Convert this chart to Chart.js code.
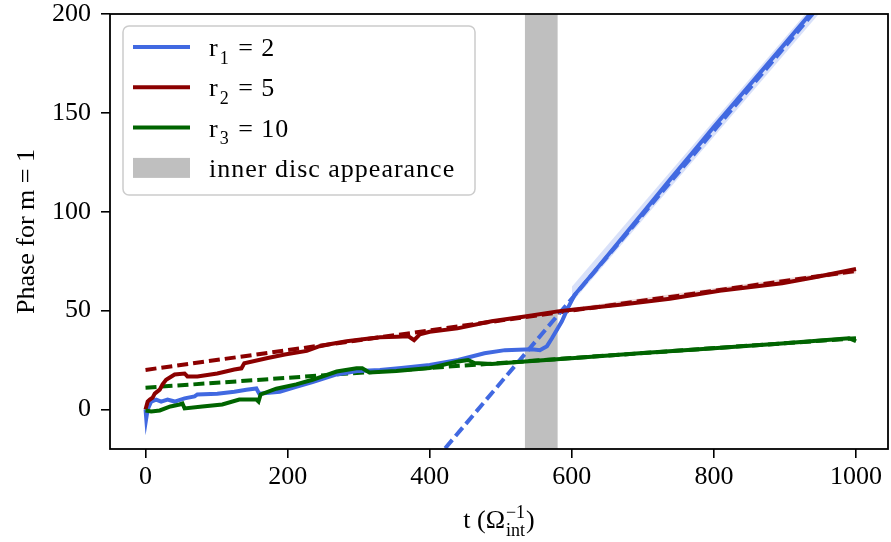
<!DOCTYPE html>
<html>
<head>
<meta charset="utf-8">
<script src="https://cdn.jsdelivr.net/npm/chart.js@4.4.1/dist/chart.umd.min.js"></script>
<style>
  html, body { margin: 0; padding: 0; background: #fff; }
</style>
</head>
<body>
<canvas id="phaseChart" width="891" height="542"></canvas>
<script>
// --- data ---
const tBlue = [0, 1, 3, 8, 15, 22, 31, 41, 55, 69, 73, 101, 125, 142, 156, 160, 189, 212, 235, 269, 300, 330, 360, 400, 440, 477, 506, 544, 555, 565, 572, 586, 594, 604, 630, 660, 700, 740, 770, 800, 850, 900, 940, 1000];
const phaseBlue = [0, -4.5, 0, 4, 5, 4, 5, 4, 5.6, 6.6, 7.6, 8, 9, 10, 10.6, 8, 9, 11.5, 13.8, 17.7, 19.5, 20, 21, 22.5, 25, 28.4, 30, 30.4, 30, 32, 36, 44.6, 51, 58, 69, 82, 99.5, 117, 130, 143, 164, 185, 202, 227];

const tRed = [0, 3, 6, 10, 13, 20, 24, 29, 41, 55, 59, 73, 101, 125, 135, 139, 172, 196, 227, 245, 259, 283, 306, 330, 354, 370, 378, 386, 400, 439, 487, 534, 580, 604, 668, 738, 808, 896, 942, 1000];
const phaseRed = [0, 4, 5, 6, 8, 10, 12.7, 15, 17.7, 18.2, 16.7, 16.7, 18.2, 20.2, 20.8, 23.4, 26, 27.8, 29.6, 32, 33, 34.5, 35.5, 36.5, 36.8, 37, 35, 38, 39.3, 41, 44.6, 47, 49.6, 50.6, 53, 56, 60, 63.8, 66.9, 71];

const tGreen = [0, 8, 20, 35, 48, 52, 55, 80, 108, 132, 156, 159, 162, 184, 212, 235, 269, 297, 305, 315, 353, 400, 440, 454, 463, 487, 534, 604, 700, 800, 900, 990, 1000];
const phaseGreen = [-0.5, -1, -0.5, 1.5, 2.5, 3, 0.5, 1.5, 2.5, 5, 5, 4, 7.6, 10.5, 12.7, 15, 19.2, 20.8, 20.8, 18.7, 19.5, 21, 24.3, 25, 23.5, 23, 24.3, 26, 28.5, 31, 33.5, 36, 34.5];

// linear fits (dashed), end points
const fitT = [0, 1000];
const fitBlue = [-198.8, 226];
const fitRed = [20, 70];
const fitGreen = [11, 36];

// shaded uncertainty around the fits
const bandT = [600, 1000];
const blueLow = [54, 222];
const blueHigh = [62, 230];
const redLow = [49.3, 68.8];
const redHigh = [51.5, 71.2];

const discBand = [534, 580];
const xTicks = [0, 200, 400, 600, 800, 1000];
const yTicks = [0, 50, 100, 150, 200];
const legendLabels = ['r_{1} = 2', 'r_{2} = 5', 'r_{3} = 10', 'inner disc appearance'];

const BLUE = '#4169e1', RED = '#8b0000', GREEN = '#006400', GREY = '#bfbfbf';
const FAMILY = '"Liberation Serif", "DejaVu Serif", serif';
const FS = 26;

const pts = (xs, ys) => xs.map((x, i) => ({ x, y: ys[i] }));

// text with ^{..} and _{..}; consecutive scripts are stacked
function drawRich(ctx, str, x, y, size, draw) {
  const parts = str.split(/(\^\{[^}]*\}|_\{[^}]*\})/).filter(Boolean).map(s =>
    s[0] === '^' ? { kind: 'sup', text: s.slice(2, -1) } :
    s[0] === '_' ? { kind: 'sub', text: s.slice(2, -1) } : { kind: 'n', text: s });
  let cx = x, i = 0;
  while (i < parts.length) {
    if (parts[i].kind === 'n') {
      ctx.font = `${size}px ${FAMILY}`;
      if (draw) ctx.fillText(parts[i].text, cx, y);
      cx += ctx.measureText(parts[i].text).width;
      i++;
    } else {
      let w = 0;
      while (i < parts.length && parts[i].kind !== 'n') {
        const q = parts[i];
        ctx.font = `${Math.round(size * 0.7)}px ${FAMILY}`;
        const dy = q.kind === 'sup' ? -size * 0.4 : size * 0.3;
        if (draw) ctx.fillText(q.text, cx + 1, y + dy);
        w = Math.max(w, ctx.measureText(q.text).width + 1);
        i++;
      }
      cx += w + 1;
    }
  }
  return cx - x;
}

const discPlugin = {
  id: 'discBand',
  beforeDatasetsDraw(chart) {
    const { ctx, chartArea: a, scales: { x } } = chart;
    const x0 = x.getPixelForValue(discBand[0]);
    const x1 = x.getPixelForValue(discBand[1]);
    ctx.save();
    ctx.fillStyle = GREY;
    ctx.fillRect(x0, a.top, x1 - x0, a.bottom - a.top);
    ctx.restore();
  }
};

const framePlugin = {
  id: 'frame',
  afterDatasetsDraw(chart) {
    const { ctx, chartArea: a } = chart;
    ctx.save();
    ctx.strokeStyle = '#000';
    ctx.lineWidth = 1.8;
    ctx.strokeRect(a.left, a.top, a.right - a.left, a.bottom - a.top);
    ctx.restore();
  }
};

const legendPlugin = {
  id: 'boxLegend',
  afterDraw(chart) {
    const { ctx, chartArea: a } = chart;
    const left = a.left + 13, top = a.top + 12;
    ctx.save();
    ctx.fillStyle = 'rgba(255,255,255,0.8)';
    ctx.strokeStyle = '#cccccc';
    ctx.lineWidth = 1.5;
    ctx.beginPath();
    ctx.roundRect(left, top, 352, 169, 6);
    ctx.fill();
    ctx.stroke();
    const colors = [BLUE, RED, GREEN];
    legendLabels.forEach((label, i) => {
      const rowY = top + 21 + i * 40.3;
      if (i < 3) {
        ctx.strokeStyle = colors[i];
        ctx.lineWidth = 4;
        ctx.beginPath();
        ctx.moveTo(left + 10, rowY);
        ctx.lineTo(left + 67, rowY);
        ctx.stroke();
      } else {
        ctx.fillStyle = GREY;
        ctx.fillRect(left + 10, rowY - 10, 57, 20);
      }
      ctx.fillStyle = '#000';
      ctx.textBaseline = 'alphabetic';
      ctx.textAlign = 'left';
      ctx.letterSpacing = '1px';
      drawRich(ctx, label, left + 86, rowY + 9, FS, true);
    });
    ctx.restore();
  }
};

const xTitlePlugin = {
  id: 'xTitle',
  afterDraw(chart) {
    const { ctx, chartArea: a } = chart;
    const label = 't (Ω^{−1}_{int})';
    ctx.save();
    ctx.fillStyle = '#000';
    ctx.textBaseline = 'alphabetic';
    ctx.textAlign = 'left';
    const w = drawRich(ctx, label, 0, 0, FS, false);
    drawRich(ctx, label, (a.left + a.right) / 2 - w / 2, chart.height - 14, FS, true);
    ctx.restore();
  }
};

const tickFont = { family: FAMILY, size: FS };
const lineSet = (label, data, color, order, dash) => ({
  label, data, borderColor: color, borderWidth: 4, borderDash: dash || [],
  pointRadius: 0, tension: 0, fill: false, clip: 0, order
});

new Chart(document.getElementById('phaseChart'), {
  type: 'line',
  data: {
    datasets: [
      { data: pts(bandT, blueLow), borderWidth: 0, pointRadius: 0, fill: false, clip: 0, order: 9 },
      { data: pts(bandT, blueHigh), borderWidth: 0, pointRadius: 0, fill: '-1', backgroundColor: 'rgba(65,105,225,0.2)', clip: 0, order: 9 },
      { data: pts(bandT, redLow), borderWidth: 0, pointRadius: 0, fill: false, clip: 0, order: 9 },
      { data: pts(bandT, redHigh), borderWidth: 0, pointRadius: 0, fill: '-1', backgroundColor: 'rgba(139,0,0,0.15)', clip: 0, order: 9 },
      lineSet('fit r1', pts(fitT, fitBlue), BLUE, 4, [11, 5]),
      lineSet('fit r2', pts(fitT, fitRed), RED, 5, [11, 5]),
      lineSet('fit r3', pts(fitT, fitGreen), GREEN, 6, [11, 5]),
      lineSet('r1 = 2', pts(tBlue, phaseBlue), BLUE, 3),
      lineSet('r2 = 5', pts(tRed, phaseRed), RED, 2),
      lineSet('r3 = 10', pts(tGreen, phaseGreen), GREEN, 1)
    ]
  },
  options: {
    responsive: false,
    animation: false,
    events: [],
    layout: { padding: { top: 14, right: 3, left: 0, bottom: 0 } },
    plugins: { legend: { display: false }, tooltip: { enabled: false } },
    scales: {
      x: {
        type: 'linear', min: -50, max: 1045,
        afterBuildTicks: s => { s.ticks = xTicks.map(v => ({ value: v })); },
        afterFit: s => { s.height = 93; s.paddingLeft = 0; s.paddingRight = 0; },
        ticks: { font: tickFont, color: '#000', padding: 4, maxRotation: 0, callback: v => String(v) },
        grid: { drawOnChartArea: false, color: '#000', tickLength: 9, lineWidth: 1.6 },
        border: { display: false }
      },
      y: {
        type: 'linear', min: -20, max: 200,
        afterBuildTicks: s => { s.ticks = yTicks.map(v => ({ value: v })); },
        afterFit: s => { s.width = 110; s.paddingTop = 0; s.paddingBottom = 0; },
        ticks: { font: tickFont, color: '#000', padding: 10, callback: v => String(v) },
        grid: { drawOnChartArea: false, color: '#000', tickLength: 9, lineWidth: 1.6 },
        border: { display: false },
        title: { display: true, text: 'Phase for m = 1', font: tickFont, color: '#000', padding: { top: 12, bottom: 0 } }
      }
    }
  },
  plugins: [discPlugin, framePlugin, legendPlugin, xTitlePlugin]
});
</script>
</body>
</html>
